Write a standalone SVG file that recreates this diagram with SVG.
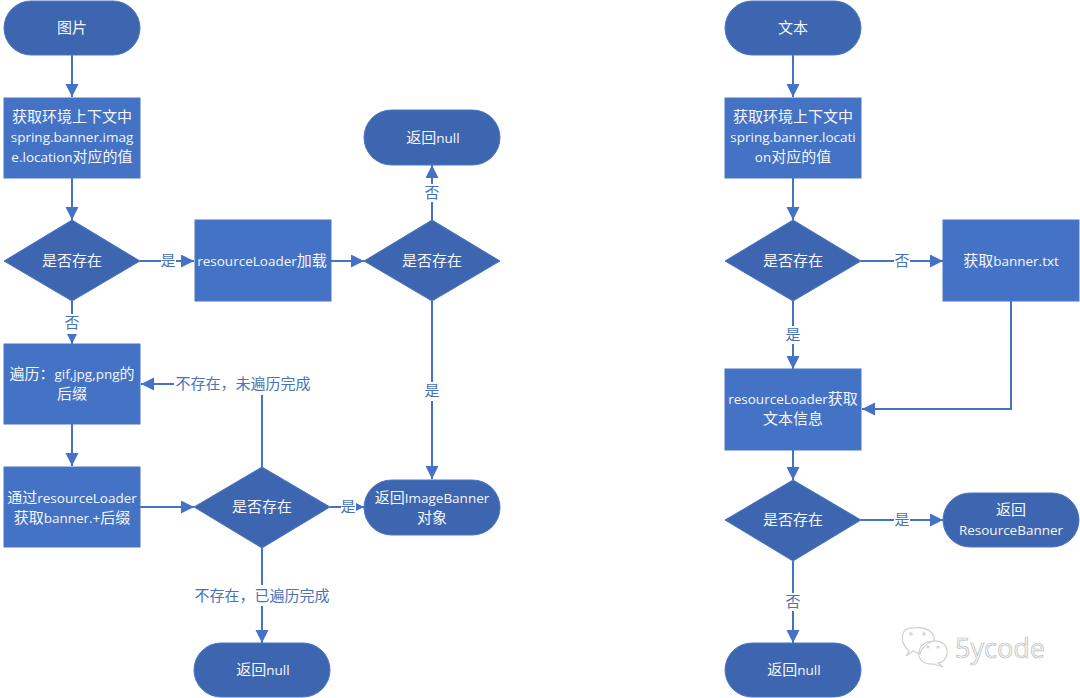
<svg xmlns="http://www.w3.org/2000/svg" width="1080" height="698" viewBox="0 0 1080 698">
<style>
text{font-family:"Open Sans","Noto Sans CJK SC",sans-serif;font-size:15px;text-anchor:middle}
.m{font-size:13.5px}
.r{fill:#4472c4;stroke:#4a76c4;stroke-width:1}
.d{fill:#3e66b0;stroke:#4a76c4;stroke-width:1}
.n text{fill:#f4f6fb}
.c{fill:none;stroke:#4472c4;stroke-width:2;marker-end:url(#a)}
.l{fill:#4a72b8}
.b{fill:#fff}
.w{fill:none;stroke:#d0d0d0;stroke-width:1.2}
</style>
<defs><marker id="a" markerUnits="userSpaceOnUse" markerWidth="14" markerHeight="14" refX="13" refY="6.5" orient="auto"><path d="M0 0L13 6.5L0 13Z" fill="#4472c4"/></marker></defs>
<rect width="1080" height="698" fill="#fff"/>
<g id="connectors">
<path class="c" d="M72 55V97"/>
<path class="c" d="M72 178V220"/>
<path class="c" d="M72 301V344"/>
<path class="c" d="M140 261H194"/>
<path class="c" d="M331 261H364"/>
<path class="c" d="M432 220V165"/>
<path class="c" d="M432 301V479"/>
<path class="c" d="M72 424V466"/>
<path class="c" d="M140 507H194"/>
<path class="c" d="M330 507H364"/>
<path class="c" d="M262 467V384H141"/>
<path class="c" d="M262 548V643"/>
<path class="c" d="M793 55V97"/>
<path class="c" d="M793 178V220"/>
<path class="c" d="M861 261H943"/>
<path class="c" d="M793 301V369"/>
<path class="c" d="M1011 301V409H862"/>
<path class="c" d="M793 450V480"/>
<path class="c" d="M861 520H943"/>
<path class="c" d="M793 561V643"/>
</g>
<g id="connector-labels">
<rect class="b" x="161" y="252" width="15" height="18"/><text class="l" x="168" y="266">是</text>
<rect class="b" x="64" y="314" width="16" height="20"/><text class="l" x="72" y="328">否</text>
<rect class="b" x="424" y="184" width="16" height="18"/><text class="l" x="432" y="198">否</text>
<rect class="b" x="424" y="382" width="16" height="19"/><text class="l" x="432" y="396">是</text>
<rect class="b" x="174" y="374" width="138" height="21"/><text class="l" x="243" y="389">不存在，未遍历完成</text>
<rect class="b" x="341" y="498" width="15" height="18"/><text class="l" x="348" y="512">是</text>
<rect class="b" x="193" y="585" width="138" height="21"/><text class="l" x="262" y="601">不存在，已遍历完成</text>
<rect class="b" x="894" y="252" width="16" height="18"/><text class="l" x="902" y="266">否</text>
<rect class="b" x="785" y="326" width="16" height="18"/><text class="l" x="793" y="340">是</text>
<rect class="b" x="894" y="511" width="16" height="18"/><text class="l" x="902" y="525">是</text>
<rect class="b" x="785" y="593" width="16" height="18"/><text class="l" x="793" y="607">否</text>
</g>
<g id="start-image" class="n"><rect class="d" x="4" y="1" width="136" height="54" rx="27"/><text x="72" y="33">图片</text></g>
<g id="get-image-location" class="n"><rect class="r" x="4" y="98" width="136" height="80"/><text x="72" y="122">获取环境上下文中</text><text class="m" x="72" y="142">spring.banner.imag</text><text x="72" y="162"><tspan class="m">e.location</tspan>对应的值</text></g>
<g id="image-exists" class="n"><path class="d" d="M72 220L140 261L72 301L4 261Z"/><text x="72" y="266">是否存在</text></g>
<g id="loader-load" class="n"><rect class="r" x="195" y="220" width="136" height="81"/><text x="262" y="266"><tspan class="m">resourceLoader</tspan>加载</text></g>
<g id="loaded-exists" class="n"><path class="d" d="M432 220L500 261L432 301L364 261Z"/><text x="432" y="266">是否存在</text></g>
<g id="return-null-1" class="n"><rect class="d" x="364" y="110" width="136" height="55" rx="27.5"/><text x="433" y="143">返回<tspan class="m">null</tspan></text></g>
<g id="iterate-suffix" class="n"><rect class="r" x="4" y="344" width="136" height="80"/><text x="72" y="379">遍历：<tspan class="m">gif,jpg,png</tspan>的</text><text x="72" y="399">后缀</text></g>
<g id="get-banner" class="n"><rect class="r" x="4" y="467" width="136" height="80"/><text x="72" y="503">通过<tspan class="m">resourceLoader</tspan></text><text x="72" y="523">获取<tspan class="m">banner.+</tspan>后缀</text></g>
<g id="suffix-exists" class="n"><path class="d" d="M262 467L330 507L262 548L194 507Z"/><text x="262" y="512">是否存在</text></g>
<g id="return-image-banner" class="n"><rect class="d" x="364" y="480" width="136" height="55" rx="27.5"/><text x="432" y="503">返回<tspan class="m">ImageBanner</tspan></text><text x="432" y="523">对象</text></g>
<g id="return-null-2" class="n"><rect class="d" x="194" y="643" width="136" height="54" rx="27"/><text x="263" y="675">返回<tspan class="m">null</tspan></text></g>
<g id="start-text" class="n"><rect class="d" x="725" y="1" width="136" height="54" rx="27"/><text x="793" y="33">文本</text></g>
<g id="get-text-location" class="n"><rect class="r" x="725" y="98" width="136" height="80"/><text x="793" y="122">获取环境上下文中</text><text class="m" x="793" y="142">spring.banner.locati</text><text x="793" y="162"><tspan class="m">on</tspan>对应的值</text></g>
<g id="text-exists" class="n"><path class="d" d="M793 220L861 261L793 301L725 261Z"/><text x="793" y="266">是否存在</text></g>
<g id="get-banner-txt" class="n"><rect class="r" x="943" y="220" width="136" height="81"/><text x="1011" y="266">获取<tspan class="m">banner.txt</tspan></text></g>
<g id="loader-text" class="n"><rect class="r" x="725" y="369" width="136" height="81"/><text x="793" y="404"><tspan class="m">resourceLoader</tspan>获取</text><text x="793" y="424">文本信息</text></g>
<g id="text-loaded-exists" class="n"><path class="d" d="M793 480L861 520L793 561L725 520Z"/><text x="793" y="525">是否存在</text></g>
<g id="return-resource-banner" class="n"><rect class="d" x="943" y="493" width="136" height="54" rx="27"/><text x="1011" y="515">返回</text><text class="m" x="1011" y="535">ResourceBanner</text></g>
<g id="return-null-3" class="n"><rect class="d" x="725" y="643" width="136" height="54" rx="27"/><text x="794" y="675">返回<tspan class="m">null</tspan></text></g>
<g id="watermark">
<path class="w" d="M909 651C899 642 900 627 914 628C926 626 936 633 934 641C928 642 921 648 920 654L913 651L906 656Z"/>
<path class="w" d="M933 641C942 640 948 646 947 653C947 659 942 663 938 663L943 667L934 664C924 665 918 660 919 652C920 645 926 641 933 641Z"/>
<circle class="w" cx="911" cy="634" r="1.2"/><circle class="w" cx="924" cy="634" r="1.2"/><circle class="w" cx="928" cy="647" r="1"/><circle class="w" cx="938" cy="647" r="1"/>
<text x="1000" y="658" style="font-size:27px;fill:#f6f6f6;stroke:#bcbcbc;stroke-width:.7px">5ycode</text>
</g>
</svg>
